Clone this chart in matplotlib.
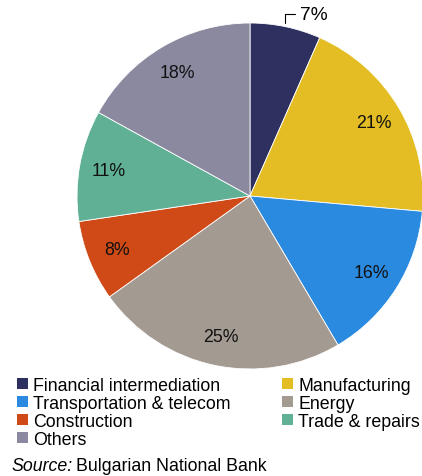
import numpy as np
import matplotlib.pyplot as plt

plt.rcParams['font.family'] = ['Liberation Sans', 'DejaVu Sans']

sectors = ['Financial intermediation', 'Manufacturing', 'Transportation & telecom',
           'Energy', 'Construction', 'Trade & repairs', 'Others']
shares = [7, 21, 16, 25, 8, 11, 18]
colors = ['#2e3160', '#e3bd23', '#2a8ae0', '#a39a92', '#cf4a16', '#60b095', '#8a89a0']

fig = plt.figure(figsize=(4.22, 4.77), dpi=100)
W, H = 422, 477
cx, cy, r = 250, 197, 173
ax = fig.add_axes([(cx - r) / W, (H - cy - r) / H, 2 * r / W, 2 * r / H])

wedges, _ = ax.pie(shares, colors=colors, startangle=90, counterclock=False,
                   radius=1, wedgeprops=dict(edgecolor='white', linewidth=0.6))
ax.set_xlim(-1, 1)
ax.set_ylim(-1, 1)
ax.set_aspect('equal')
ax.axis('off')

fs = 12.8

# percentage labels inside the slices, except the small first one
for i, (w, v) in enumerate(zip(wedges, shares)):
    mid = np.deg2rad((w.theta1 + w.theta2) / 2)
    if i == 0:
        x0, y0 = 0.97 * np.cos(mid) * 1.0, 1.02 * np.sin(mid)
        ax.annotate(f'{v}%', xy=(x0, y0), xytext=(0.29, 1.05),
                    fontsize=fs + 1, ha='left', va='center',
                    arrowprops=dict(arrowstyle='-', color='black', lw=0.8,
                                    connectionstyle='angle,angleA=0,angleB=90,rad=0',
                                    shrinkA=2, shrinkB=0))
        continue
    d = 0.83
    ax.text(d * np.cos(mid), d * np.sin(mid), f'{v}%', fontsize=fs,
            ha='center', va='center', color='#111111')

order = [0, 2, 4, 6, 1, 3, 5]
leg = fig.legend([wedges[i] for i in order], [sectors[i] for i in order],
                 ncol=2, loc='upper left', bbox_to_anchor=(17 / W, 1 - 378 / H),
                 frameon=False, fontsize=fs, handlelength=0.6, handleheight=0.6,
                 handletextpad=0.3, labelspacing=0.05, columnspacing=2.9,
                 borderaxespad=0, borderpad=0)
for h in leg.legend_handles:
    h.set_edgecolor('none')

fig.text(11 / W, 1 - 467 / H, 'Source:', fontsize=fs, style='italic', va='center')
fig.text(76 / W, 1 - 467 / H, 'Bulgarian National Bank', fontsize=fs, va='center')

fig.savefig('out.png', dpi=100)
